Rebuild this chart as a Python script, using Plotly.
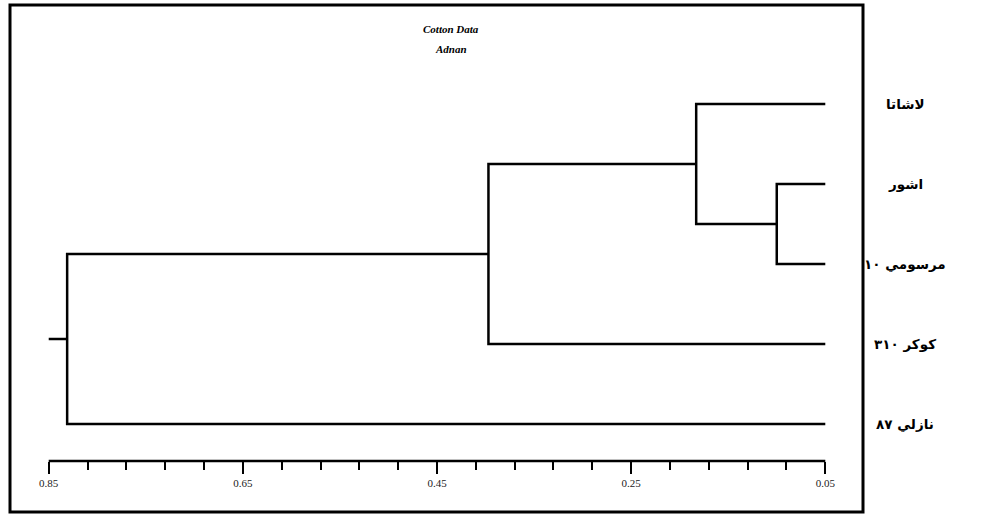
import plotly.graph_objects as go
import numpy as np

# ---- data ----
leaf_labels = ["لاشاتا", "اشور", "مرسومي ١٠", "كوكر ٣١٠", "نازلي ٨٧"]
merge_left = [1, 0, 6, 7]
merge_right = [2, 5, 3, 4]
merge_height = [0.100, 0.183, 0.397, 0.831]
root_end = 0.85
leaf_height = 0.05
tick_vals = [0.85, 0.65, 0.45, 0.25, 0.05]
tick_text = ["0.85", "0.65", "0.45", "0.25", "0.05"]
title_lines = ["Cotton Data", "Adnan"]

# ---- layout geometry (pixels) ----
W, H = 995, 517
L, T = 39, 40
PW, PH = 796, 421
R = W - L - PW
B = H - T - PH


def px_x(p):
    return (p - L) / PW


def px_y(p):
    return (T + PH - p) / PH


# ---- dendrogram coordinates ----
n = len(leaf_labels)
node_x = {i: leaf_height for i in range(n)}
node_y = {i: float(n - 1 - i) for i in range(n)}
xs, ys = [], []
for k, (a, b, h) in enumerate(zip(merge_left, merge_right, merge_height)):
    nid = n + k
    xs += [node_x[a], h, h, node_x[b], None]
    ys += [node_y[a], node_y[a], node_y[b], node_y[b], None]
    node_x[nid] = h
    node_y[nid] = (node_y[a] + node_y[b]) / 2
root = n + len(merge_height) - 1
xs += [node_x[root], root_end, None]
ys += [node_y[root], node_y[root], None]

fig = go.Figure()
fig.add_trace(go.Scatter(x=xs, y=ys, mode="lines",
                         line=dict(color="black", width=2.5),
                         hoverinfo="skip", showlegend=False))

minor_vals = [round(v, 2) for v in np.arange(0.85, 0.049, -0.04) if round(v, 2) not in tick_vals]

annotations = []
for i, lab in enumerate(leaf_labels):
    annotations.append(dict(x=px_x(905), y=node_y[i], xref="paper", yref="y",
                            text=lab, showarrow=False, xanchor="center", yanchor="middle",
                            font=dict(family="DejaVu Sans", size=13.5, color="black", weight="bold")))
for j, (t, py) in enumerate(zip(title_lines, [29, 49])):
    annotations.append(dict(x=px_x(451), y=px_y(py), xref="paper", yref="paper",
                            text="<b><i>%s</i></b>" % t, showarrow=False,
                            xanchor="center", yanchor="middle",
                            font=dict(family="Liberation Serif", size=11, color="black")))

shapes = [
    dict(type="rect", xref="paper", yref="paper",
         x0=px_x(10), x1=px_x(863), y0=px_y(512), y1=px_y(5),
         line=dict(color="black", width=3)),
    dict(type="line", xref="x", yref="paper", x0=tick_vals[0], x1=tick_vals[-1], y0=0, y1=0,
         line=dict(color="black", width=2.5)),
]

fig.update_layout(
    width=W, height=H,
    margin=dict(l=L, r=R, t=T, b=B, pad=0),
    paper_bgcolor="white", plot_bgcolor="white",
    xaxis=dict(range=[0.86, 0.04], tickmode="array", tickvals=tick_vals, ticktext=tick_text,
               ticks="outside", ticklen=12, tickwidth=2, tickcolor="black",
               showline=False, showgrid=False, zeroline=False,
               tickfont=dict(family="Liberation Serif", size=11, color="#222"),
               minor=dict(tickvals=minor_vals, ticks="outside", ticklen=8, tickwidth=2,
                          tickcolor="black", showgrid=False)),
    yaxis=dict(range=[-0.4625, 4.8], visible=False),
    annotations=annotations,
    shapes=shapes,
    showlegend=False,
)

fig.write_html("out.html", config={"displayModeBar": False},
               post_script="document.body.style.margin='0px';")
